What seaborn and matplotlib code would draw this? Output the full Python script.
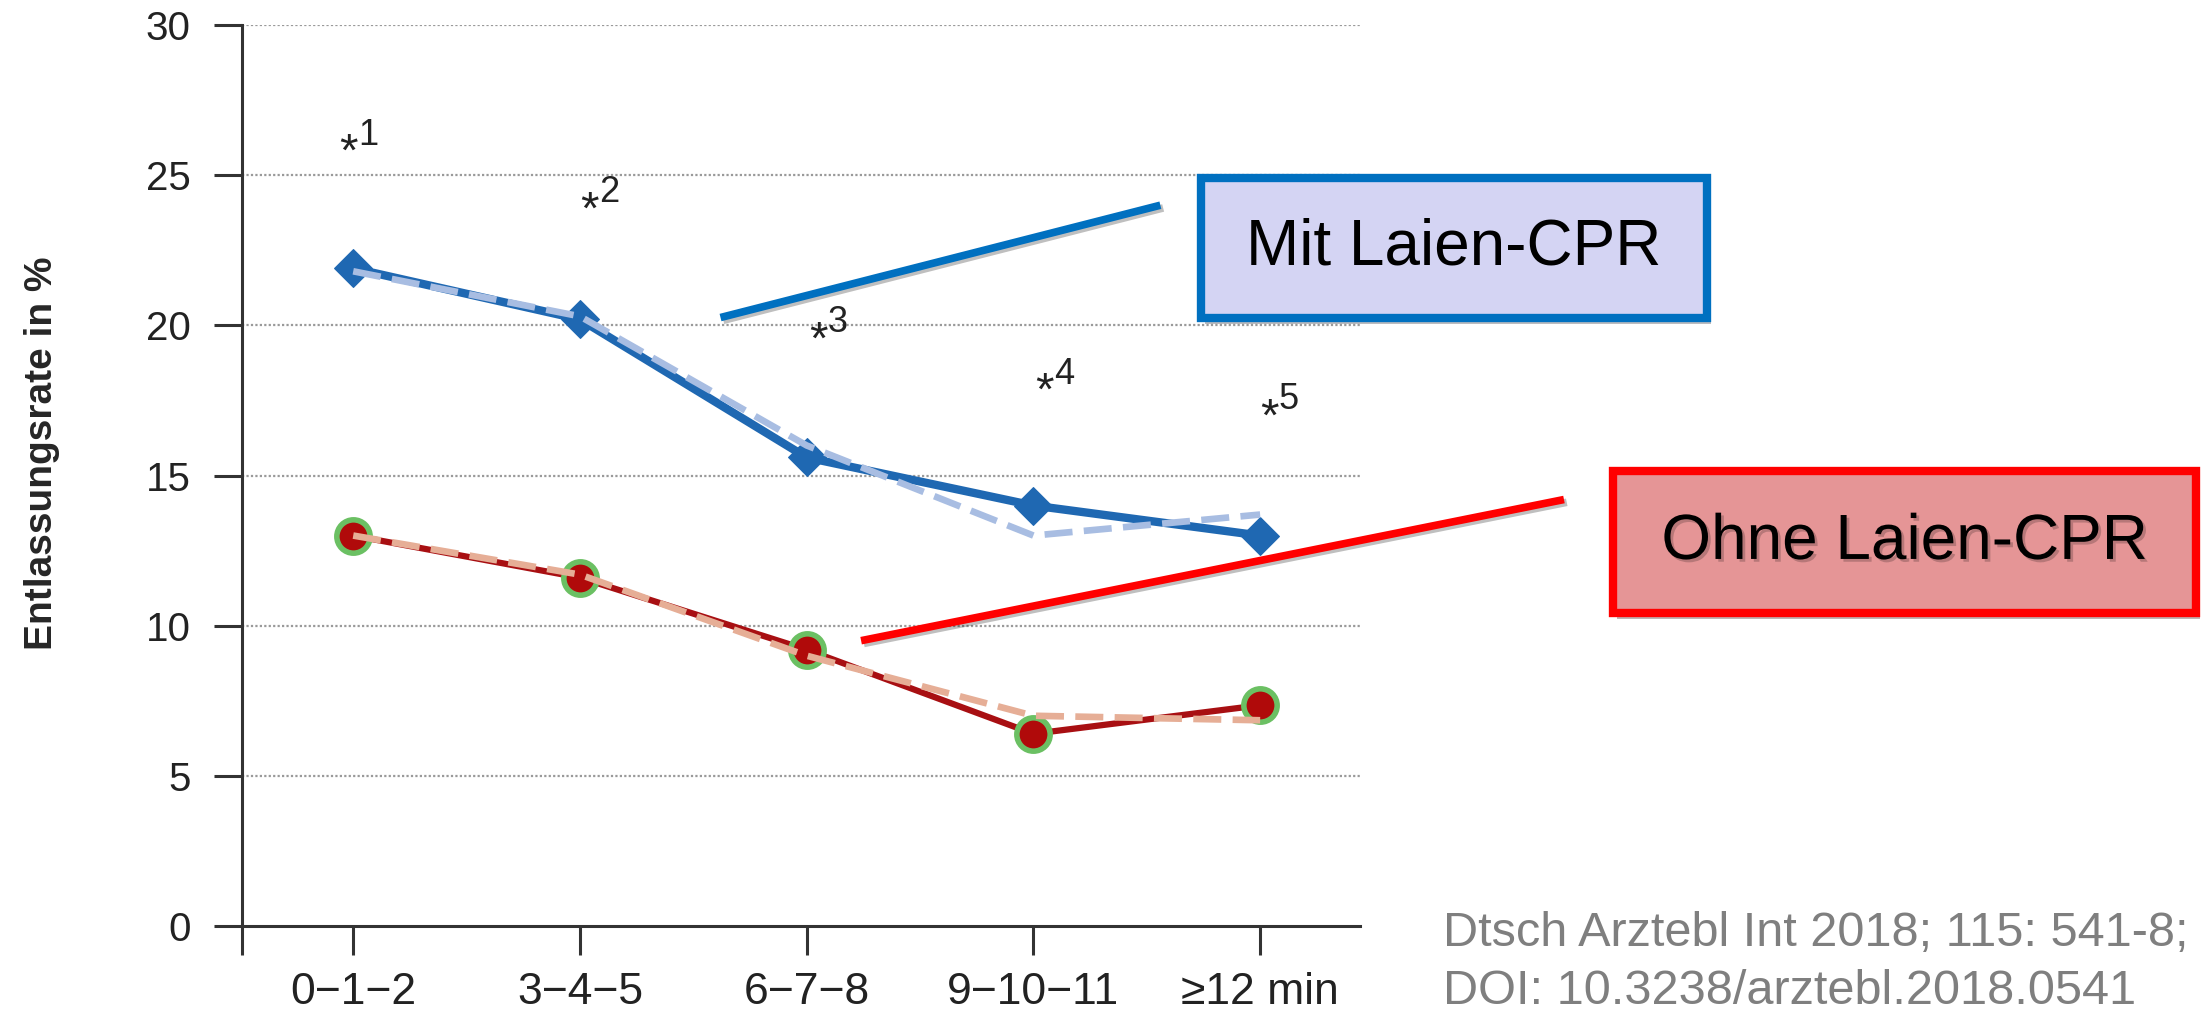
import numpy as np
import pandas as pd
import matplotlib
matplotlib.use("Agg")
import matplotlib.pyplot as plt
import matplotlib.patches as mpatches
import matplotlib.patheffects as pe
import seaborn as sns

# ---------------- data ----------------
categories = ["0\u22121\u22122", "3\u22124\u22125", "6\u22127\u22128", "9\u221210\u221211", "\u226512 min"]
mit_laien = [21.9, 20.2, 15.6, 14.0, 13.0]          # solid blue diamonds
mit_laien_fit = [21.8, 20.3, 16.0, 13.0, 13.7]      # light blue dashed
ohne_laien = [13.0, 11.6, 9.2, 6.4, 7.35]           # dark red circles
ohne_laien_fit = [13.0, 11.7, 9.0, 7.0, 6.85]       # salmon dashed
sig_labels = ["1", "2", "3", "4", "5"]
sig_x = [-0.02, 1.04, 2.05, 3.05, 4.04]
sig_y = [25.7, 23.8, 19.45, 17.75, 16.9]
yticks = [0, 5, 10, 15, 20, 25, 30]
ylabel = "Entlassungsrate in %"
box_mit = "Mit Laien-CPR"
box_ohne = "Ohne Laien-CPR"
citation = ["Dtsch Arztebl Int 2018; 115: 541-8;", "DOI: 10.3238/arztebl.2018.0541"]
pointer_mit = ([1.62, 3.56], [20.26, 24.0])
pointer_ohne = ([2.24, 5.34], [9.5, 14.2])

# ---------------- style ----------------
sns.set_style("white")
plt.rcParams["font.family"] = ["Liberation Sans", "DejaVu Sans"]

fig = plt.figure(figsize=(22.03, 10.13), dpi=100)
ax = fig.add_axes([0.1099, 0.0859, 0.5074, 0.8894])

x = np.arange(len(categories))
df = pd.DataFrame({"x": x, "mit": mit_laien, "mit_fit": mit_laien_fit,
                   "ohne": ohne_laien, "ohne_fit": ohne_laien_fit})

sns.lineplot(data=df, x="x", y="mit", ax=ax, color="#1F68B2", lw=6,
             marker="D", markersize=19, markeredgecolor="#1F68B2", zorder=3)
sns.lineplot(data=df, x="x", y="ohne", ax=ax, color="#A80F12", lw=4.5,
             marker="o", markersize=24, markerfacecolor="#B00A0A",
             markeredgecolor="#6BC063", markeredgewidth=4, zorder=3)
sns.lineplot(data=df, x="x", y="mit_fit", ax=ax, color="#A8BDE2", lw=4.8,
             linestyle=(0, (4.2, 1.7)), zorder=4)
sns.lineplot(data=df, x="x", y="ohne_fit", ax=ax, color="#E6AE96", lw=4.8,
             linestyle=(0, (4.2, 1.7)), zorder=4)

ax.set_xlim(-0.49, 4.44)
ax.set_ylim(0, 30)
ax.set_xticks(x)
ax.set_xticklabels(categories)
ax.set_yticks(yticks)
ax.set_xlabel("")
ax.set_ylabel(ylabel, fontsize=28, fontweight="bold")
ax.yaxis.set_label_coords(-0.163, 0.525)

ax.tick_params(axis="both", colors="#333333", labelcolor="#222222", width=2.2,
               direction="out", bottom=True, left=True)
ax.tick_params(axis="y", labelsize=29, length=20, pad=17)
ax.tick_params(axis="x", labelsize=32, length=21, pad=12)

for yv in yticks[1:]:
    ax.axhline(yv, color="#9A9A9A", lw=1.6, ls=(0, (1, 1)), zorder=1)

for s in ["top", "right"]:
    ax.spines[s].set_visible(False)
for s in ["left", "bottom"]:
    ax.spines[s].set_color("#333333")
    ax.spines[s].set_linewidth(2.2)
ax.plot([0, 0], [0, -0.032], transform=ax.transAxes, color="#333333", lw=2.2,
        clip_on=False, solid_capstyle="butt")

# significance markers
for lab, sx, sy in zip(sig_labels, sig_x, sig_y):
    ax.text(sx, sy, "*", fontsize=34, ha="center", va="center", color="#222222")
    ax.annotate(lab, (sx, sy), xytext=(7, 1), textcoords="offset points",
                fontsize=26, ha="left", va="bottom", color="#222222")

# pointer lines
shadow = [pe.SimpleLineShadow(offset=(2, -2), alpha=0.25), pe.Normal()]
ax.plot(*pointer_mit, color="#0070C0", lw=5.5, clip_on=False, zorder=5,
        solid_capstyle="butt", path_effects=shadow)
ax.plot(*pointer_ohne, color="#FF0000", lw=5.5, clip_on=False, zorder=5,
        solid_capstyle="butt", path_effects=shadow)

# boxes
box_fs = 46
pshadow = [pe.SimplePatchShadow(offset=(3, -4), alpha=0.35), pe.Normal()]
r1 = mpatches.Rectangle((0.5452, 0.6861), 0.2297, 0.1382, transform=fig.transFigure,
                        facecolor="#D4D4F3", edgecolor="#0070C0", lw=6,
                        path_effects=pshadow)
fig.patches.append(r1)
fig.text(0.5452 + 0.2297 / 2, 0.6861 + 0.1382 / 2, box_mit, ha="center", va="center",
         fontsize=box_fs, color="black")
r2 = mpatches.Rectangle((0.7322, 0.3949), 0.2646, 0.1402, transform=fig.transFigure,
                        facecolor="#E59596", edgecolor="#FF0000", lw=6,
                        path_effects=pshadow)
fig.patches.append(r2)
fig.text(0.7322 + 0.2646 / 2, 0.3949 + 0.1402 / 2, box_ohne, ha="center", va="center",
         fontsize=box_fs, color="black",
         path_effects=[pe.withSimplePatchShadow(offset=(2, -2), alpha=0.2)])

# citation
cit_fs = 35
fig.text(0.655, 1 - 946 / 1013, citation[0], fontsize=cit_fs, color="#7F7F7F",
         ha="left", va="baseline")
fig.text(0.655, 1 - 1004 / 1013, citation[1], fontsize=cit_fs, color="#7F7F7F",
         ha="left", va="baseline")

fig.savefig("out.png", dpi=100)
